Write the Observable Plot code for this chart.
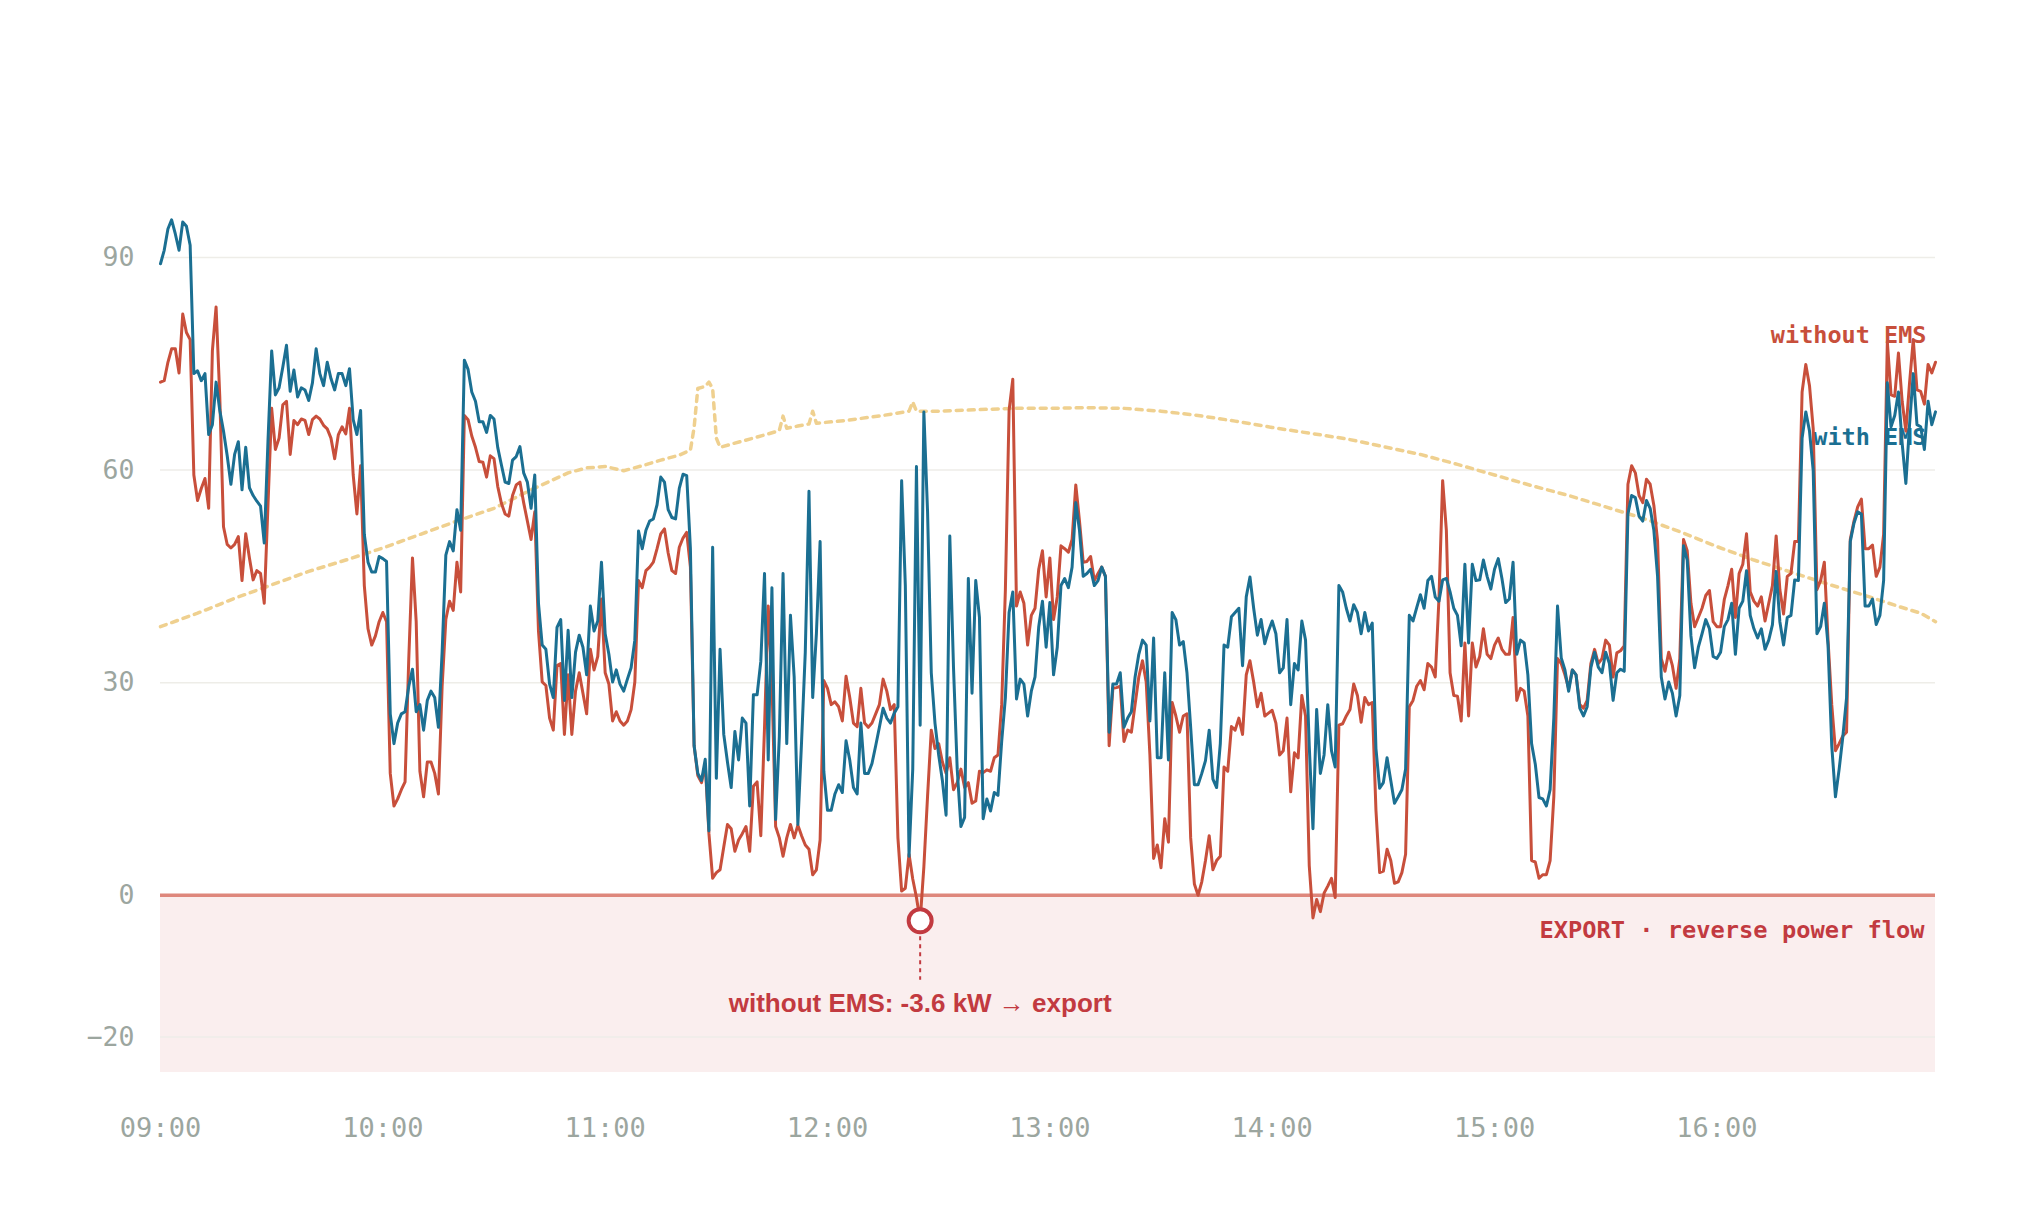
<!DOCTYPE html>
<html>
<head>
<meta charset="utf-8">
<script src="https://cdn.jsdelivr.net/npm/d3@7"></script>
<script src="https://cdn.jsdelivr.net/npm/@observablehq/plot@0.6"></script>
<style>
  html, body { margin: 0; padding: 0; background: #ffffff; overflow: hidden; }
  #chart svg { display: block; }
</style>
</head>
<body>
<div id="chart"></div>
<script>
// Grid exchange at the connection point, kW, one reading per minute from 09:00.
// Positive = import from the grid, negative = export (reverse power flow).
const withoutEms = [
  72.4, 72.6, 75.2, 77.1, 77.1, 73.7, 82, 79.4, 78.4, 59.3,
  55.7, 57.4, 58.8, 54.6, 76.8, 83, 70.3, 52, 49.5, 49,
  49.5, 50.6, 44.4, 51, 47.6, 44.5, 45.8, 45.4, 41.2, 55,
  68.7, 62.9, 64.5, 69.2, 69.7, 62.2, 67, 66.4, 67.2, 67,
  65, 67.1, 67.6, 67.2, 66.3, 65.8, 64.5, 61.6, 65, 66.1,
  65.1, 68.7, 59.3, 53.8, 60.6, 43.7, 37.6, 35.3, 36.6, 38.6,
  39.9, 38.6, 17.2, 12.6, 13.6, 14.9, 16, 33.4, 47.6, 38.6,
  17.5, 13.9, 18.8, 18.8, 17.2, 14.3, 29.5, 38.9, 41.5, 40.2,
  47, 42.8, 67.7, 67.1, 64.8, 63.2, 61.2, 61.1, 59, 62,
  61.6, 57.7, 55.3, 53.8, 53.5, 56.4, 57.9, 58.3, 55.4, 52.8,
  50.2, 54.1, 37.3, 30.1, 29.6, 25, 23.3, 32.4, 32.7, 22.7,
  31.1, 22.7, 28.8, 31.4, 28.5, 25.6, 34.7, 31.8, 33.7, 41.8,
  31.4, 29.8, 24.6, 25.9, 24.6, 24, 24.6, 26.2, 30.1, 44.4,
  43.4, 45.8, 46.3, 47, 48.9, 51, 51.7, 48.3, 45.8, 45.4,
  49.1, 50.4, 51.2, 46.3, 21.1, 16.9, 15.9, 18.5, 8.7, 2.4,
  3.2, 3.6, 6.8, 10, 9.4, 6.2, 7.8, 8.7, 9.7, 6.2,
  15.4, 16, 8.4, 23.7, 40.8, 30.1, 9.7, 8.1, 5.5, 8.1,
  10, 8.1, 9.9, 8.4, 7.1, 6.5, 2.9, 3.6, 7.8, 30.3,
  29.2, 26.9, 27.3, 26.6, 24.6, 30.9, 27.9, 24.3, 23.8, 29.2,
  24.3, 23.7, 24.3, 25.6, 26.9, 30.5, 28.8, 26.2, 26.9, 8.1,
  0.6, 1, 5.8, 2.3, -0.3, -3.6, 4, 14, 23.3, 20.7,
  21.4, 18.8, 17.2, 19.4, 14.9, 15.9, 17.8, 15.2, 15.9, 13,
  13.3, 17.5, 17.3, 17.7, 17.5, 19.4, 19.8, 26.9, 43.1, 68.4,
  72.8, 40.8, 42.8, 41.2, 35.3, 39.5, 40.5, 46, 48.6, 42.1,
  47.6, 38.9, 42.1, 49.3, 48.9, 48.4, 50.2, 57.9, 52.8, 47,
  47.1, 47.8, 44.4, 45.4, 46.3, 45, 21.1, 29.2, 29.3, 29.5,
  21.7, 23.3, 23, 26.9, 30.8, 33.1, 30.1, 19.8, 5.2, 7.1,
  3.9, 10.8, 7.5, 27.2, 25.3, 23, 25.3, 25.6, 8.1, 1.6,
  0, 1.9, 4.9, 8.4, 3.6, 4.9, 5.5, 18.1, 17.5, 23.8,
  23.3, 25, 22.7, 31.1, 33.1, 30.1, 26.6, 28.5, 25.3, 25.7,
  26.1, 24.3, 19.8, 20.4, 25, 14.6, 20.1, 19.4, 28.2, 25.3,
  4.2, -3.2, -0.6, -2.3, 0.3, 1.3, 2.4, -0.3, 24, 24.2,
  25.3, 26.2, 29.8, 28.2, 24.4, 27.9, 26.9, 27.2, 12, 3.2,
  3.4, 6.5, 4.9, 1.7, 1.9, 3.2, 5.8, 26.6, 27.5, 29.5,
  30.3, 29, 32.7, 32.2, 30.8, 41.8, 58.5, 51.5, 31.4, 28.2,
  28.1, 24.6, 35.6, 25.3, 35.6, 32.2, 33.7, 37.6, 34, 33.4,
  35.3, 36.3, 34.7, 34, 34, 39.2, 27.5, 29.2, 28.8, 25.3,
  4.9, 4.7, 2.4, 2.9, 2.9, 4.9, 13.9, 33.4, 32.7, 31.1,
  29.2, 31.8, 31.1, 26.9, 26.4, 27.5, 32.7, 34.7, 32.7, 33.4,
  36, 35.3, 30.8, 34.2, 34.5, 35.2, 58, 60.6, 59.6, 56.4,
  55.4, 58.7, 58, 55, 50, 33.4, 31.6, 34.3, 32.4, 29.2,
  33.4, 50.2, 48.6, 41.2, 37.9, 39.2, 40.5, 42.3, 43, 38.6,
  37.9, 37.9, 41.7, 43.7, 46, 39.2, 45.4, 46.7, 51, 42.8,
  41.5, 40.8, 42.1, 38.7, 41.2, 43.7, 50.7, 43.1, 39.7, 45,
  45.4, 49.9, 49.9, 71, 74.9, 71.9, 65.8, 43.1, 44.4, 47,
  36, 26.9, 20.4, 21.4, 22.5, 23, 50.2, 52.8, 54.8, 55.9,
  48.9, 48.9, 49.4, 45, 46.3, 50.9, 78.1, 70.6, 70.4, 76.5,
  69.7, 65.5, 72.3, 78.4, 71.3, 71.1, 69.3, 74.9, 73.7, 75.2
];

const withEms = [
  89.1, 91, 94, 95.3, 93.3, 91, 95, 94.4, 91.7, 73.6,
  74, 72.6, 73.6, 65, 66.4, 72.4, 68.4, 65.5, 62, 58,
  62.2, 64, 57.2, 63.2, 57.5, 56.4, 55.6, 54.9, 49.7, 64,
  76.8, 70.6, 71.6, 74.5, 77.6, 71.1, 74.1, 70.3, 71.6, 71.3,
  69.8, 72.3, 77.1, 73.6, 71.9, 75.2, 72.9, 71.3, 73.6, 73.6,
  71.9, 74.3, 67.1, 65, 68.4, 50.9, 47, 45.6, 45.6, 47.8,
  47.5, 47.1, 25.6, 21.4, 24.3, 25.6, 25.9, 29.5, 31.9, 25.9,
  26.9, 23.3, 27.5, 28.8, 27.9, 23.7, 34.3, 48, 49.9, 48.6,
  54.4, 51.5, 75.5, 74.2, 71, 69.7, 66.8, 66.8, 65.3, 67.7,
  67.2, 63.2, 60.7, 58.3, 58.1, 61.4, 61.9, 63.3, 59.6, 58.3,
  54.6, 59.3, 41.2, 35.3, 34.7, 29.8, 27.9, 37.8, 38.9, 27.5,
  37.4, 27.9, 34.3, 36.7, 35, 31.1, 40.8, 37.3, 38.7, 47,
  36.9, 34, 30.1, 31.8, 29.8, 28.8, 30.5, 32.1, 36, 51.4,
  48.9, 51.5, 52.8, 53.1, 55.1, 59, 58.3, 54.4, 53.3, 53.1,
  57.4, 59.4, 59.2, 48.9, 21.1, 17.2, 16.2, 19.2, 9.1, 49.1,
  16.5, 34.7, 22.7, 18.8, 15.2, 23.1, 19.1, 25, 24.3, 12.6,
  28.3, 28.3, 33, 45.4, 19.1, 43.4, 10.7, 22.4, 45.4, 21.4,
  39.5, 30.8, 10, 21.7, 34.3, 57, 27.9, 36.9, 49.9, 17.5,
  12, 12, 14.3, 15.6, 14.5, 21.8, 19.1, 15.2, 14.3, 24.3,
  17.2, 17.2, 18.6, 21.1, 23.7, 26.4, 25, 24.3, 25.7, 26.6,
  58.5, 43.7, 5.5, 17.8, 60.5, 24, 68.2, 54.1, 31.4, 24.3,
  19.8, 16.2, 11.3, 50.7, 32.1, 17.8, 9.7, 11, 44.7, 28.5,
  44.4, 39.2, 10.8, 13.6, 11.9, 14.5, 14.1, 21.7, 27.9, 39.9,
  42.8, 27.7, 30.5, 29.8, 25.3, 28.8, 30.8, 37.9, 41.5, 35,
  41.3, 31.1, 35, 43.7, 44.7, 43.4, 46.3, 55.4, 51.5, 45,
  45.4, 46, 43.7, 44.4, 46.3, 45, 23, 29.8, 29.8, 31.4,
  23.7, 25, 25.9, 30.8, 34, 36, 35.3, 24.6, 36.3, 19.4,
  19.4, 31.4, 19.1, 39.9, 38.9, 35.3, 35.8, 31.4, 23.7, 15.6,
  15.6, 17.2, 19, 23.3, 16.4, 15.2, 21.4, 35.3, 35, 39.3,
  39.9, 40.5, 32.4, 42.1, 44.9, 40.5, 36.7, 38.9, 35.5, 37.3,
  38.7, 36.9, 31.4, 32.1, 38.9, 26.9, 32.7, 31.8, 38.7, 36,
  21.1, 9.4, 26.2, 17.2, 19.8, 26.9, 20.4, 18.1, 43.7, 42.8,
  40.5, 38.7, 41, 39.9, 36.9, 39.9, 37.3, 38.4, 20.7, 15.1,
  15.9, 19.4, 16.2, 13, 13.9, 14.9, 17.8, 39.5, 38.7, 40.6,
  42.4, 40.5, 44.4, 45, 42.1, 41.5, 44.5, 44.7, 42.8, 40.5,
  39.5, 35.2, 46.7, 35.6, 46.7, 44.4, 44.5, 47.3, 45, 43.2,
  46, 47.5, 44.7, 41.3, 41.8, 47, 34, 36, 35.6, 31.1,
  21.4, 18.5, 13.8, 13.6, 12.6, 14.9, 25, 40.8, 33.5, 31.8,
  28.8, 31.8, 31.1, 26.4, 25.3, 26.6, 32.1, 34.3, 32.2, 31.4,
  34.3, 32.7, 27.5, 31.4, 31.9, 31.6, 53.8, 56.4, 56.1, 53.5,
  52.8, 55.7, 54.6, 51.5, 45, 30.8, 27.7, 30.1, 28.5, 25.3,
  28.2, 49.3, 47.3, 36.6, 32.1, 35, 36.9, 38.9, 37.6, 33.7,
  33.4, 34.3, 37.9, 38.9, 41.2, 34, 40.5, 41.5, 45.8, 39.5,
  37.6, 36.3, 37.6, 34.7, 36, 38.2, 45.7, 38.6, 35.3, 39.2,
  39.5, 44.5, 44.4, 64.5, 68.2, 65.5, 59.9, 36.9, 37.9, 41.2,
  35.3, 21.1, 13.9, 17.8, 22.4, 27.9, 49.9, 52.5, 54.1, 53.8,
  40.8, 40.8, 41.8, 38.2, 39.5, 44.4, 72.3, 66.1, 67.7, 71,
  63.8, 58.1, 66.4, 73.6, 66.4, 66.1, 62.9, 69.7, 66.4, 68.2
];

// PV generation (kW): sample minute and value
const pvMinutes = [
  0, 10, 20, 30, 40, 50, 60, 70, 80, 90,
  100, 110, 115, 120, 125, 130, 135, 140, 143, 144,
  145, 147, 148, 149, 150, 151, 155, 160, 166, 167,
  168, 169, 172, 175, 176, 177, 185, 195, 202, 203,
  204, 210, 220, 230, 240, 250, 260, 270, 280, 290,
  300, 310, 320, 330, 340, 350, 360, 370, 380, 390,
  400, 410, 420, 430, 440, 450, 460, 470, 475, 479
];
const pvValues = [
  37.9, 39.8, 41.9, 43.8, 45.7, 47.3, 49, 50.9, 52.8, 54.6,
  57.2, 59.6, 60.3, 60.5, 59.9, 60.6, 61.4, 62.1, 62.8, 66,
  71.5, 71.8, 72.4, 71.5, 64.5, 63.2, 63.8, 64.5, 65.4, 65.6,
  67.6, 65.9, 66.2, 66.5, 68.3, 66.6, 67, 67.7, 68.3, 69.6,
  68.3, 68.3, 68.5, 68.7, 68.7, 68.8, 68.7, 68.3, 67.7, 66.9,
  66, 65.2, 64.4, 63.3, 62.2, 60.8, 59.3, 57.8, 56.4, 54.8,
  53.2, 51.3, 49.2, 47.3, 45.6, 43.9, 42.3, 40.6, 39.8, 38.6
];

const hourTicks = [0, 60, 120, 180, 240, 300, 360, 420];
const hourLabels = ["09:00", "10:00", "11:00", "12:00", "13:00", "14:00", "15:00", "16:00"];
const yTicks = [-20, 0, 30, 60, 90];
const yDomain = [-25, 100];
const seriesNames = ["without EMS", "with EMS"];

const RED = "#c84f3b";
const BLUE = "#1b6f92";
const ALERT = "#c23a40";
const MONO = "'DejaVu Sans Mono', monospace";

const redRows = withoutEms.map((v, i) => ({minute: i, kw: v}));
const blueRows = withEms.map((v, i) => ({minute: i, kw: v}));
const pvRows = pvMinutes.map((m, i) => ({minute: m, kw: pvValues[i]}));
const lastMinute = withoutEms.length - 1;

// deepest export without EMS
const minIdx = d3.minIndex(withoutEms);
const minRow = {minute: minIdx, kw: withoutEms[minIdx]};

const chart = Plot.plot({
  width: 2027,
  height: 1213,
  marginLeft: 160,
  marginRight: 92,
  marginTop: 186,
  marginBottom: 141,
  style: {
    fontFamily: MONO,
    fontSize: "26px",
    color: "#9ca69f",
    background: "#ffffff"
  },
  x: {domain: [0, lastMinute], axis: null},
  y: {domain: yDomain, axis: null},
  marks: [
    // export zone below zero
    Plot.rect([{x1: 0, x2: lastMinute, y1: yDomain[0], y2: 0}], {
      x1: "x1", x2: "x2", y1: "y1", y2: "y2", fill: "#faeeee"
    }),
    Plot.gridY({ticks: yTicks, stroke: "#eeede8", strokeOpacity: 1, strokeWidth: 1.5}),
    Plot.axisY({ticks: yTicks, tickSize: 0, tickPadding: 26, fontSize: 26.5}),
    Plot.axisX({
      ticks: hourTicks,
      tickSize: 0,
      tickPadding: 45,
      fontSize: 27,
      tickFormat: (m) => hourLabels[hourTicks.indexOf(m)]
    }),
    Plot.ruleY([0], {stroke: "#de877c", strokeWidth: 3.5}),
    Plot.text(["EXPORT · reverse power flow"], {
      x: lastMinute, y: 0, text: (d) => d,
      textAnchor: "end", dx: -11, dy: 35,
      fill: ALERT, fontWeight: "bold", fontSize: 23.7, fontFamily: MONO
    }),
    // PV production
    Plot.line(pvRows, {
      x: "minute", y: "kw",
      stroke: "#efd08f", strokeWidth: 3.5, strokeDasharray: "6,6"
    }),
    // series labels at the right end
    Plot.text([redRows[lastMinute]], {
      x: "minute", y: "kw", text: () => seriesNames[0],
      textAnchor: "end", dx: -9, dy: -27,
      fill: RED, fontWeight: "bold", fontSize: 23.5, fontFamily: MONO
    }),
    Plot.text([blueRows[lastMinute]], {
      x: "minute", y: "kw", text: () => seriesNames[1],
      textAnchor: "end", dx: -9, dy: 26,
      fill: BLUE, fontWeight: "bold", fontSize: 23.5, fontFamily: MONO
    }),
    Plot.lineY(redRows, {x: "minute", y: "kw", stroke: RED, strokeWidth: 3}),
    Plot.lineY(blueRows, {x: "minute", y: "kw", stroke: BLUE, strokeWidth: 3}),
    // callout on the deepest export
    Plot.ruleX([minRow], {
      x: "minute", y1: "kw", y2: -12,
      stroke: ALERT, strokeWidth: 2, strokeDasharray: "4,4"
    }),
    Plot.dot([minRow], {
      x: "minute", y: "kw", r: 11.5,
      fill: "#ffffff", stroke: ALERT, strokeWidth: 4
    }),
    Plot.text([minRow], {
      x: "minute", y: -15.3,
      text: (d) => `without EMS: ${d.kw.toFixed(1)} kW → export`,
      fill: ALERT, fontWeight: "bold", fontSize: 26,
      fontFamily: "'Liberation Sans', Arial, sans-serif"
    })
  ]
});

document.getElementById("chart").appendChild(chart);
</script>
</body>
</html>
